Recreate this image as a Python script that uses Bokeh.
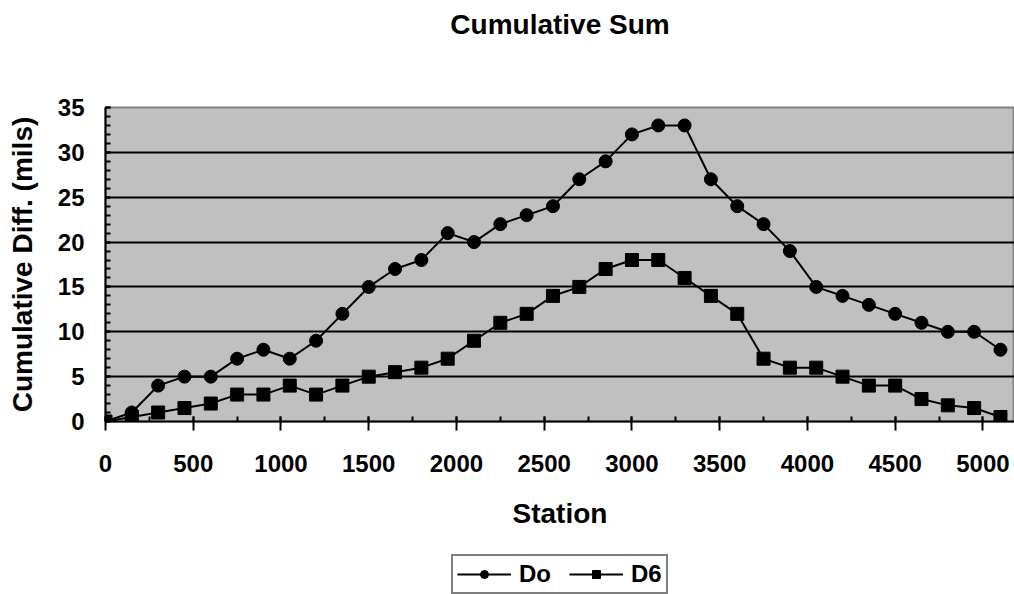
from bokeh.plotting import figure
from bokeh.layouts import column
from bokeh.models import SingleIntervalTicker, FixedTicker, Range1d, Title
from bokeh.embed import file_html
from bokeh.resources import INLINE

stations = [0, 150, 300, 450, 600, 750, 900, 1050, 1200, 1350, 1500, 1650, 1800,
            1950, 2100, 2250, 2400, 2550, 2700, 2850, 3000, 3150, 3300, 3450, 3600,
            3750, 3900, 4050, 4200, 4350, 4500, 4650, 4800, 4950, 5100]
do_vals = [0, 1, 4, 5, 5, 7, 8, 7, 9, 12, 15, 17, 18, 21, 20, 22, 23, 24, 27, 29,
           32, 33, 33, 27, 24, 22, 19, 15, 14, 13, 12, 11, 10, 10, 8]
d6_vals = [0, 0.5, 1, 1.5, 2, 3, 3, 4, 3, 4, 5, 5.5, 6, 7, 9, 11, 12, 14, 15, 17,
           18, 18, 16, 14, 12, 7, 6, 6, 5, 4, 4, 2.5, 1.8, 1.5, 0.5]

FONT = "Liberation Sans"

p = figure(width=1014, height=550, output_backend="svg", toolbar_location=None,
           x_range=Range1d(0, 5180), y_range=Range1d(0, 35),
           min_border_left=105, min_border_top=107, min_border_right=0,
           min_border_bottom=129)

p.background_fill_color = "#C0C0C0"
p.border_fill_color = "white"
p.outline_line_color = "#808080"
p.outline_line_width = 2

# title (with an empty spacer between it and the plot area)
p.title.text = "Cumulative Sum"
p.title.align = "center"
p.title.text_font = FONT
p.title.text_font_style = "bold"
p.title.text_font_size = "28px"
p.title.text_color = "black"
p.title.standoff = 10
p.add_layout(Title(text=" ", text_font_size="1px", standoff=60), "above")

# grid
p.xgrid.visible = False
p.ygrid.ticker = FixedTicker(ticks=[5, 10, 15, 20, 25, 30])
p.ygrid.grid_line_color = "black"
p.ygrid.grid_line_width = 2

# x axis
xa = p.xaxis[0]
xa.ticker = SingleIntervalTicker(interval=500, num_minor_ticks=2)
xa.axis_label = "Station"
xa.axis_line_color = "black"
xa.axis_line_width = 2
xa.major_tick_line_color = "black"
xa.major_tick_line_width = 2
xa.major_tick_in = 5
xa.major_tick_out = 9
xa.minor_tick_line_color = "black"
xa.minor_tick_line_width = 2
xa.minor_tick_in = 5
xa.minor_tick_out = 0
xa.major_label_standoff = 24
xa.major_label_text_font = FONT
xa.major_label_text_font_style = "bold"
xa.major_label_text_font_size = "24px"
xa.major_label_text_color = "black"
xa.axis_label_standoff = 23
xa.axis_label_text_font = FONT
xa.axis_label_text_font_style = "bold"
xa.axis_label_text_font_size = "28px"
xa.axis_label_text_color = "black"

# y axis
ya = p.yaxis[0]
ya.ticker = SingleIntervalTicker(interval=5, num_minor_ticks=5)
ya.axis_label = "Cumulative Diff. (mils)"
ya.axis_line_color = "black"
ya.axis_line_width = 2
ya.major_tick_line_color = "black"
ya.major_tick_line_width = 2
ya.major_tick_in = 5
ya.major_tick_out = 0
ya.minor_tick_line_color = "black"
ya.minor_tick_line_width = 2
ya.minor_tick_in = 5
ya.minor_tick_out = 0
ya.major_label_standoff = 21
ya.major_label_text_font = FONT
ya.major_label_text_font_style = "bold"
ya.major_label_text_font_size = "24px"
ya.major_label_text_color = "black"
ya.axis_label_standoff = 17
ya.axis_label_text_font = FONT
ya.axis_label_text_font_style = "bold"
ya.axis_label_text_font_size = "28px"
ya.axis_label_text_color = "black"

# series
p.line(stations, do_vals, line_color="black", line_width=2)
p.scatter(stations, do_vals, marker="circle", size=13, fill_color="black",
          line_color="black")
p.line(stations, d6_vals, line_color="black", line_width=2)
p.scatter(stations, d6_vals, marker="square", size=13, fill_color="black",
          line_color="black")

# legend strip below the chart (its own small figure, series kept out of view)
p2 = figure(width=1014, height=44, output_backend="svg", toolbar_location=None,
            x_axis_type=None, y_axis_type=None,
            x_range=Range1d(0, 1), y_range=Range1d(1000, 1001), min_border=0)
p2.outline_line_color = None
p2.background_fill_color = "white"
p2.border_fill_color = "white"
p2.grid.visible = False
p2.line(stations, do_vals, line_color="black", line_width=2, legend_label="Do")
p2.scatter(stations, do_vals, marker="circle", size=13, fill_color="black",
           line_color="black", legend_label="Do")
p2.line(stations, d6_vals, line_color="black", line_width=2, legend_label="D6")
p2.scatter(stations, d6_vals, marker="square", size=13, fill_color="black",
           line_color="black", legend_label="D6")

lg = p2.legend[0]
lg.orientation = "horizontal"
lg.location = (346, 0)
lg.border_line_color = "black"
lg.border_line_width = 2
lg.background_fill_color = "white"
lg.background_fill_alpha = 1
lg.glyph_width = 54
lg.glyph_height = 20
lg.label_height = 20
lg.padding = 4
lg.spacing = 18
lg.label_standoff = 8
lg.margin = 0
lg.label_text_font = FONT
lg.label_text_font_style = "bold"
lg.label_text_font_size = "24px"
lg.label_text_color = "black"

open("out.html", "w").write(file_html(column(p, p2, spacing=0), INLINE))
